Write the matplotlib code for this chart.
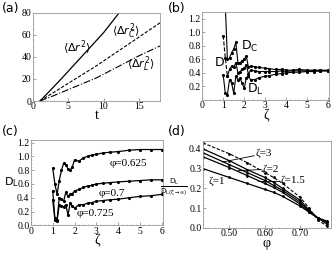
import numpy as np
import matplotlib
matplotlib.use("Agg")
import matplotlib.pyplot as plt

plt.rcParams['font.family'] = ['Liberation Serif', 'DejaVu Serif']
plt.rcParams['mathtext.fontset'] = 'dejavusans'

# (a) mean square displacement vs t
t = [1, 2, 4, 6, 8, 10, 12.2]
dr2 = [0, 6.5, 20, 34, 48, 62, 80]
t_c = [1, 3, 6, 9, 12, 15, 18]
dr2_c = [0, 8, 20, 32, 45, 58, 71]
dr2_l = [0, 5, 13, 21, 31, 41, 50]

# (b) diffusion coefficients vs zeta
zeta_b = [1.0, 1.1, 1.2, 1.3, 1.4, 1.5, 1.6, 1.7, 1.8, 1.9, 2.0, 2.1, 2.2, 2.3, 2.5,
          2.7, 3.0, 3.2, 3.5, 3.8, 4.0, 4.3, 4.6, 5.0, 5.3, 5.6, 6.0]
D_c = [1.45, 1.40, 0.60, 0.62, 0.70, 0.75, 0.85, 0.55, 0.55, 0.58, 0.60, 0.65, 0.48,
       0.50, 0.49, 0.48, 0.47, 0.46, 0.45, 0.45, 0.44, 0.44, 0.45, 0.44, 0.44, 0.44, 0.44]
D = [0.95, 0.62, 0.35, 0.45, 0.50, 0.48, 0.55, 0.40, 0.42, 0.45, 0.47, 0.52, 0.38,
     0.44, 0.43, 0.42, 0.42, 0.42, 0.42, 0.43, 0.42, 0.43, 0.43, 0.43, 0.43, 0.43, 0.43]
D_L = [0.37, 0.10, 0.08, 0.30, 0.25, 0.10, 0.35, 0.30, 0.32, 0.25, 0.17, 0.33, 0.35,
       0.30, 0.30, 0.33, 0.35, 0.36, 0.38, 0.39, 0.40, 0.41, 0.41, 0.42, 0.42, 0.43, 0.43]

# (c) D_L vs zeta for three packing fractions
zeta_c = [1.0, 1.1, 1.2, 1.3, 1.4, 1.5, 1.6, 1.7, 1.8, 1.9, 2.0, 2.2, 2.4, 2.6, 2.8,
          3.0, 3.3, 3.6, 4.0, 4.5, 5.0, 5.5, 6.0]
DL_625 = [0.83, 0.60, 0.45, 0.65, 0.80, 0.90, 0.88, 0.82, 0.80, 0.85, 0.95, 0.93, 0.98,
          1.00, 1.02, 1.03, 1.05, 1.06, 1.07, 1.09, 1.10, 1.10, 1.10]
DL_700 = [0.50, 0.10, 0.08, 0.40, 0.38, 0.35, 0.48, 0.42, 0.45, 0.46, 0.50, 0.52, 0.55,
          0.57, 0.58, 0.60, 0.61, 0.62, 0.63, 0.64, 0.65, 0.66, 0.66]
DL_725 = [0.37, 0.08, 0.07, 0.30, 0.28, 0.27, 0.30, 0.15, 0.32, 0.28, 0.25, 0.30, 0.30,
          0.32, 0.33, 0.35, 0.36, 0.37, 0.38, 0.40, 0.42, 0.43, 0.45]

# (d) normalised D_L vs phi
phi = [0.425, 0.5, 0.55, 0.6, 0.625, 0.65, 0.7, 0.725, 0.75, 0.775]
z1 = [0.30, 0.255, 0.225, 0.195, 0.18, 0.16, 0.11, 0.08, 0.05, 0.03]
z15 = [0.36, 0.305, 0.265, 0.225, 0.205, 0.18, 0.12, 0.08, 0.05, 0.035]
z2 = [0.38, 0.32, 0.28, 0.24, 0.215, 0.19, 0.13, 0.085, 0.05, 0.03]
z3 = [0.40, 0.34, 0.295, 0.255, 0.23, 0.20, 0.14, 0.09, 0.05, 0.02]
zinf = [0.43, 0.375, 0.33, 0.28, 0.255, 0.225, 0.155, 0.10, 0.04, 0.01]


def frame(ax):
    for s in ax.spines.values():
        s.set_color('0.6')
        s.set_linewidth(0.6)
    ax.tick_params(direction='in', length=2, width=0.5, color='0.5',
                   labelsize=7, pad=1)
    ax.minorticks_on()
    ax.tick_params(which='minor', direction='in', length=1, width=0.4, color='0.6')


fig = plt.figure(figsize=(3.32, 2.59), dpi=100)

# (a)
ax = fig.add_axes([0.099, 0.61, 0.383, 0.34])
ax.plot(t, dr2, 'k-', lw=0.9)
ax.plot(t_c, dr2_c, 'k--', lw=0.8, dashes=(3, 1.5))
ax.plot(t_c, dr2_l, 'k-.', lw=0.8)
ax.set_xlim(0, 18)
ax.set_ylim(0, 80)
ax.set_xticks([0, 5, 10, 15])
ax.set_yticks([0, 20, 40, 60, 80])
frame(ax)
ax.set_xlabel('t', fontsize=10, labelpad=-2)
ax.text(4.2, 45, r'$\langle\Delta r^2\rangle$', fontsize=8)
ax.text(11.2, 60, r'$\langle\Delta r_C^2\rangle$', fontsize=8)
ax.text(13.3, 30, r'$\langle\Delta r_L^2\rangle$', fontsize=8)
fig.text(0.005, 0.955, '(a)', fontsize=9, family='DejaVu Sans')

# (b)
ax = fig.add_axes([0.609, 0.614, 0.383, 0.34])
ax.plot(zeta_b, D_c, 'k-', lw=0.8, marker='.', ms=2.5)
ax.plot(zeta_b[:3], D[:3], 'k--', lw=0.8, marker='.', ms=2.5)
ax.plot(zeta_b[2:], D[2:], 'k-', lw=0.8, marker='.', ms=2.5)
ax.plot(zeta_b, D_L, 'k-', lw=0.8, marker='.', ms=2.5)
ax.set_xlim(0, 6.05)
ax.set_ylim(0, 1.3)
ax.set_xticks(range(7))
ax.set_yticks([0.2, 0.4, 0.6, 0.8, 1.0, 1.2])
frame(ax)
ax.set_xlabel('ζ', fontsize=10, labelpad=-1)
ax.text(1.85, 0.74, r'$\mathrm{D_C}$', fontsize=9)
ax.text(0.6, 0.5, 'D', fontsize=9, family='DejaVu Sans')
ax.text(2.15, 0.1, r'$\mathrm{D_L}$', fontsize=9)
fig.text(0.505, 0.955, '(b)', fontsize=9, family='DejaVu Sans')

# (c)
ax = fig.add_axes([0.093, 0.13, 0.398, 0.33])
for y in (DL_625, DL_700, DL_725):
    ax.plot(zeta_c, y, 'k-', lw=0.9, marker='.', ms=2.5)
ax.set_xlim(0, 6.05)
ax.set_ylim(0, 1.24)
ax.set_xticks(range(7))
ax.set_yticks([0.0, 0.2, 0.4, 0.6, 0.8, 1.0, 1.2])
frame(ax)
ax.set_xlabel('ζ', fontsize=10, labelpad=-1)
fig.text(0.012, 0.285, r'$\mathrm{D_L}$', fontsize=8)
ax.text(3.6, 0.86, 'φ=0.625', fontsize=8)
ax.text(3.1, 0.42, 'φ=0.7', fontsize=8)
ax.text(2.1, 0.14, 'φ=0.725', fontsize=8)
fig.text(0.005, 0.48, '(c)', fontsize=9, family='DejaVu Sans')

# (d)
ax = fig.add_axes([0.611, 0.12, 0.386, 0.336])
for y in (z1, z15, z2, z3):
    ax.plot(phi, y, 'k-', lw=0.9, marker='.', ms=2)
ax.plot(phi, zinf, 'k--', lw=0.8, marker='.', ms=2, dashes=(3, 1.5))
ax.set_xlim(0.425, 0.787)
ax.set_ylim(0, 0.44)
ax.set_xticks([0.5, 0.6, 0.7])
ax.set_xticklabels(['0.50', '0.60', '0.70'])
ax.set_yticks([0.0, 0.1, 0.2, 0.3, 0.4])
frame(ax)
ax.set_xlabel('φ', fontsize=10, labelpad=-1)
fig.text(0.524, 0.278, r'$\frac{\mathrm{D_L}}{\mathrm{D_{L(\zeta\to\infty)}}}$',
         fontsize=7.5, ha='center', va='center')
ax.plot([0.48, 0.57], [0.333, 0.365], 'k-', lw=0.6)
ax.text(0.574, 0.362, 'ζ=3', fontsize=8)
ax.plot([0.525, 0.59], [0.29, 0.295], 'k-', lw=0.6)
ax.text(0.593, 0.283, 'ζ=2', fontsize=8)
ax.plot([0.58, 0.64], [0.235, 0.235], 'k-', lw=0.6)
ax.text(0.643, 0.226, 'ζ=1.5', fontsize=8)
ax.text(0.44, 0.225, 'ζ=1', fontsize=8)
fig.text(0.505, 0.48, '(d)', fontsize=9, family='DejaVu Sans')

fig.savefig('out.png', dpi=100)
